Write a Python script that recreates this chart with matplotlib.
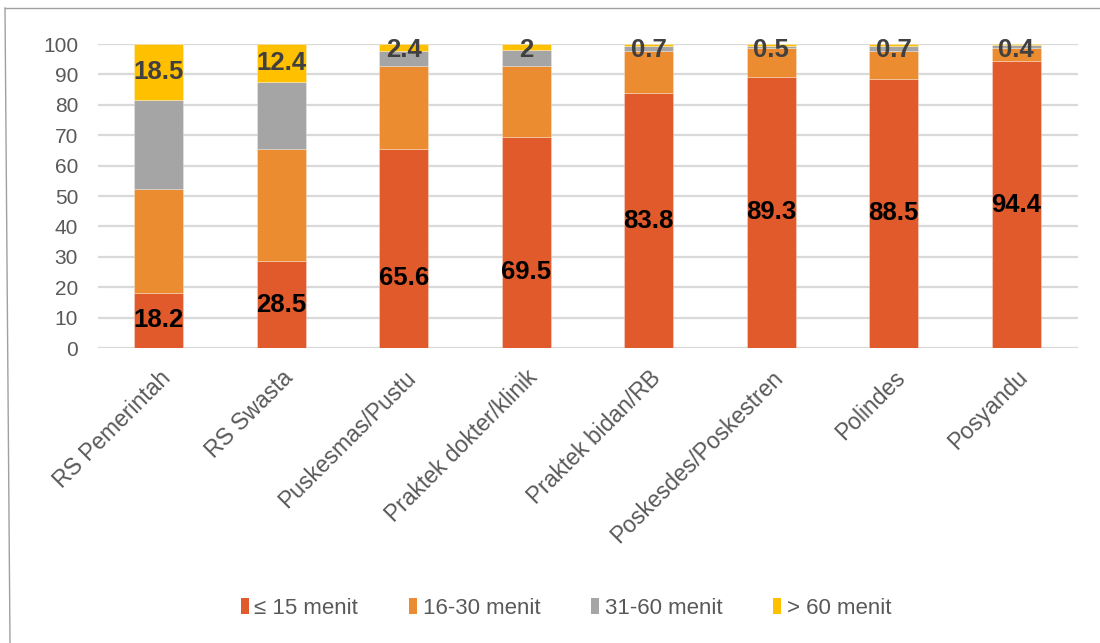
import matplotlib
matplotlib.use("Agg")
import matplotlib.pyplot as plt
from matplotlib.patches import Patch
from matplotlib.lines import Line2D
import numpy as np

categories = ["RS Pemerintah", "RS Swasta", "Puskesmas/Pustu", "Praktek dokter/klinik",
              "Praktek bidan/RB", "Poskesdes/Poskestren", "Polindes", "Posyandu"]
series_names = ["\u2264 15 menit", "16-30 menit", "31-60 menit", "> 60 menit"]
le15 = [18.2, 28.5, 65.6, 69.5, 83.8, 89.3, 88.5, 94.4]
m16_30 = [34.1, 37.0, 27.0, 23.2, 14.0, 9.5, 9.2, 4.4]
m31_60 = [29.2, 22.1, 5.0, 5.3, 1.5, 0.7, 1.6, 0.8]
gt60 = [18.5, 12.4, 2.4, 2.0, 0.7, 0.5, 0.7, 0.4]
yticks = list(range(0, 101, 10))

colors = ["#E05A2B", "#EB8C30", "#A5A5A5", "#FFC000"]

plt.rcParams['font.family'] = ['Liberation Sans', 'DejaVu Sans']

fig = plt.figure(figsize=(11, 6.43), dpi=100)
ax = fig.add_axes([97.5 / 1100, 1 - 348 / 643, 980 / 1100, 304 / 643])

x = np.arange(len(categories))
series = [le15, m16_30, m31_60, gt60]
bottom = np.zeros(len(categories))
for vals, c in zip(series, colors):
    ax.bar(x, vals, width=0.4, bottom=bottom, color=c, edgecolor=(1, 1, 1, 0.5),
           linewidth=0.4, zorder=3)
    bottom = bottom + np.array(vals)

# data labels
label_override = {2: 23.0, 3: 25.0}
for i in x:
    yc = label_override.get(i, le15[i] / 2)
    ax.text(i, yc, f"{le15[i]:g}", ha='center', va='center', fontsize=18.5,
            fontweight='bold', color='black', zorder=5)
    top_base = 100 - gt60[i]
    yc2 = min(top_base + gt60[i] / 2, 97.9)
    ax.text(i, yc2, f"{gt60[i]:g}", ha='center', va='center', fontsize=18.5,
            fontweight='bold', color='#404040', zorder=5)

ax.set_xlim(-0.5, 7.5)
ax.set_ylim(0, 100)
ax.set_yticks(yticks)
ax.set_yticklabels([str(t) for t in yticks], fontsize=15, color='#595959')
ax.yaxis.grid(True, color='#D9D9D9', linewidth=1.6, zorder=0)
ax.set_axisbelow(True)
for s in ax.spines.values():
    s.set_visible(False)
ax.tick_params(axis='both', length=0)
ax.tick_params(axis='y', pad=14)
ax.set_xticks(x)
ax.set_xticklabels(categories, rotation=45, ha='right', rotation_mode='anchor',
                   fontsize=16.5, color='#595959')
ax.tick_params(axis='x', pad=13)

handles = [Patch(facecolor=c, edgecolor='none') for c in colors]
leg = fig.legend(handles, series_names, loc='center', bbox_to_anchor=(566 / 1100, 1 - 608 / 643),
                 ncol=4, frameon=False, fontsize=16, handlelength=0.35, handleheight=0.75,
                 handletextpad=0.25, columnspacing=2.3, labelcolor='#595959')

# outer chart frame
fig.add_artist(Line2D([5 / 1100, 1.0], [1 - 8 / 643, 1 - 8 / 643], color='#A0A0A0', linewidth=1.0,
                      transform=fig.transFigure))
fig.add_artist(Line2D([5 / 1100, 10 / 1100], [1 - 8 / 643, 0.0], color='#A0A0A0', linewidth=1.0,
                      transform=fig.transFigure))

fig.savefig("out.png", dpi=100, facecolor='white')
